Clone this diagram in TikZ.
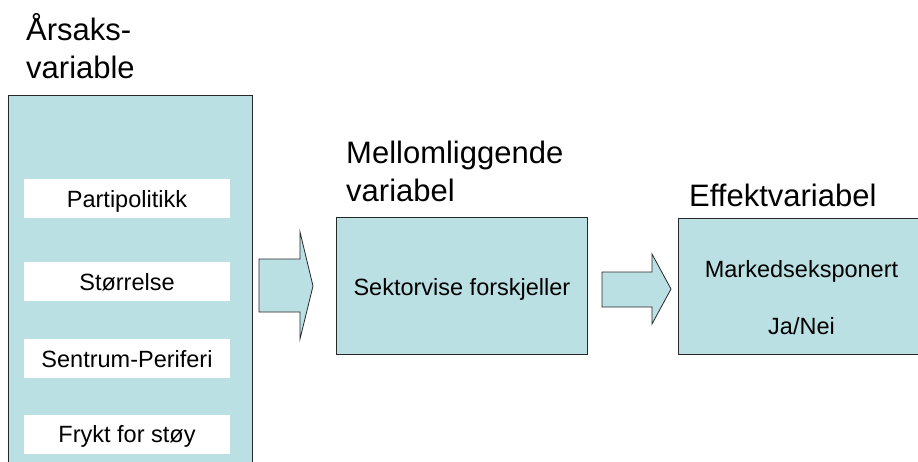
\documentclass[tikz,border=0pt]{standalone}
\usepackage{fontspec}
\setmainfont[Ligatures=CommonOff]{Liberation Sans}
\definecolor{boxblue}{RGB}{187,224,227}
\definecolor{edge}{RGB}{40,40,40}
\begin{document}
\begin{tikzpicture}[x=1pt,y=-1pt,
  title/.style={font=\fontsize{31}{38}\selectfont, align=left, anchor=base west, inner sep=0pt},
  lbl/.style={font=\fontsize{23.5}{28}\selectfont, inner sep=0pt},
  bluebox/.style={draw=edge, fill=boxblue, line width=0.8pt, rectangle, inner sep=0pt},
  whitebox/.style={fill=white, rectangle, inner sep=0pt, minimum width=206pt, minimum height=39pt,
     font=\fontsize{23.5}{28}\selectfont, text height=17pt, text depth=0pt},
  blockarrow/.style={draw=edge, fill=boxblue, line width=0.8pt, line join=miter}]
\useasboundingbox (0,0) rectangle (918,461);
\clip (0,0) rectangle (918,461);
% titles (base anchor = last line's baseline)
\node[title] (t1) at (26,78) {Årsaks-\\variable};
\node[title] (t2) at (346,201) {Mellomliggende\\variabel};
\node[title] (t3) at (689,206) {Effektvariabel};
% left box
\node[bluebox, anchor=north west, minimum width=244pt, minimum height=380pt] (cause) at (8,95) {};
\node[whitebox] (w1) at (127,198.5) {Partipolitikk};
\node[whitebox] (w2) at (127,281.5) {Størrelse};
\node[whitebox] (w3) at (127,358.5) {Sentrum-Periferi};
\node[whitebox] (w4) at (127,434) {Frykt for støy};
% middle box
\node[bluebox, anchor=north west, minimum width=251pt, minimum height=137pt] (mid) at (336,217) {};
\node[lbl, anchor=base] (midtext) at (mid.center |- 0,295) {Sektorvise forskjeller};
% right box
\node[bluebox, anchor=north west, minimum width=250pt, minimum height=136pt] (eff) at (678,218) {};
\node[lbl, anchor=base] (efftext1) at (801.5,277) {Markedseksponert};
\node[lbl, anchor=base] (efftext2) at (801.5,334) {Ja/Nei};
% block arrows
\draw[blockarrow] (259,259) -- (300,259) -- (300,232) -- (313,286) -- (300,339) -- (300,312) -- (259,312) -- cycle;
\draw[blockarrow] (602,272) -- (652,272) -- (652,254) -- (671,289) -- (652,324) -- (652,307) -- (602,307) -- cycle;
\end{tikzpicture}
\end{document}
